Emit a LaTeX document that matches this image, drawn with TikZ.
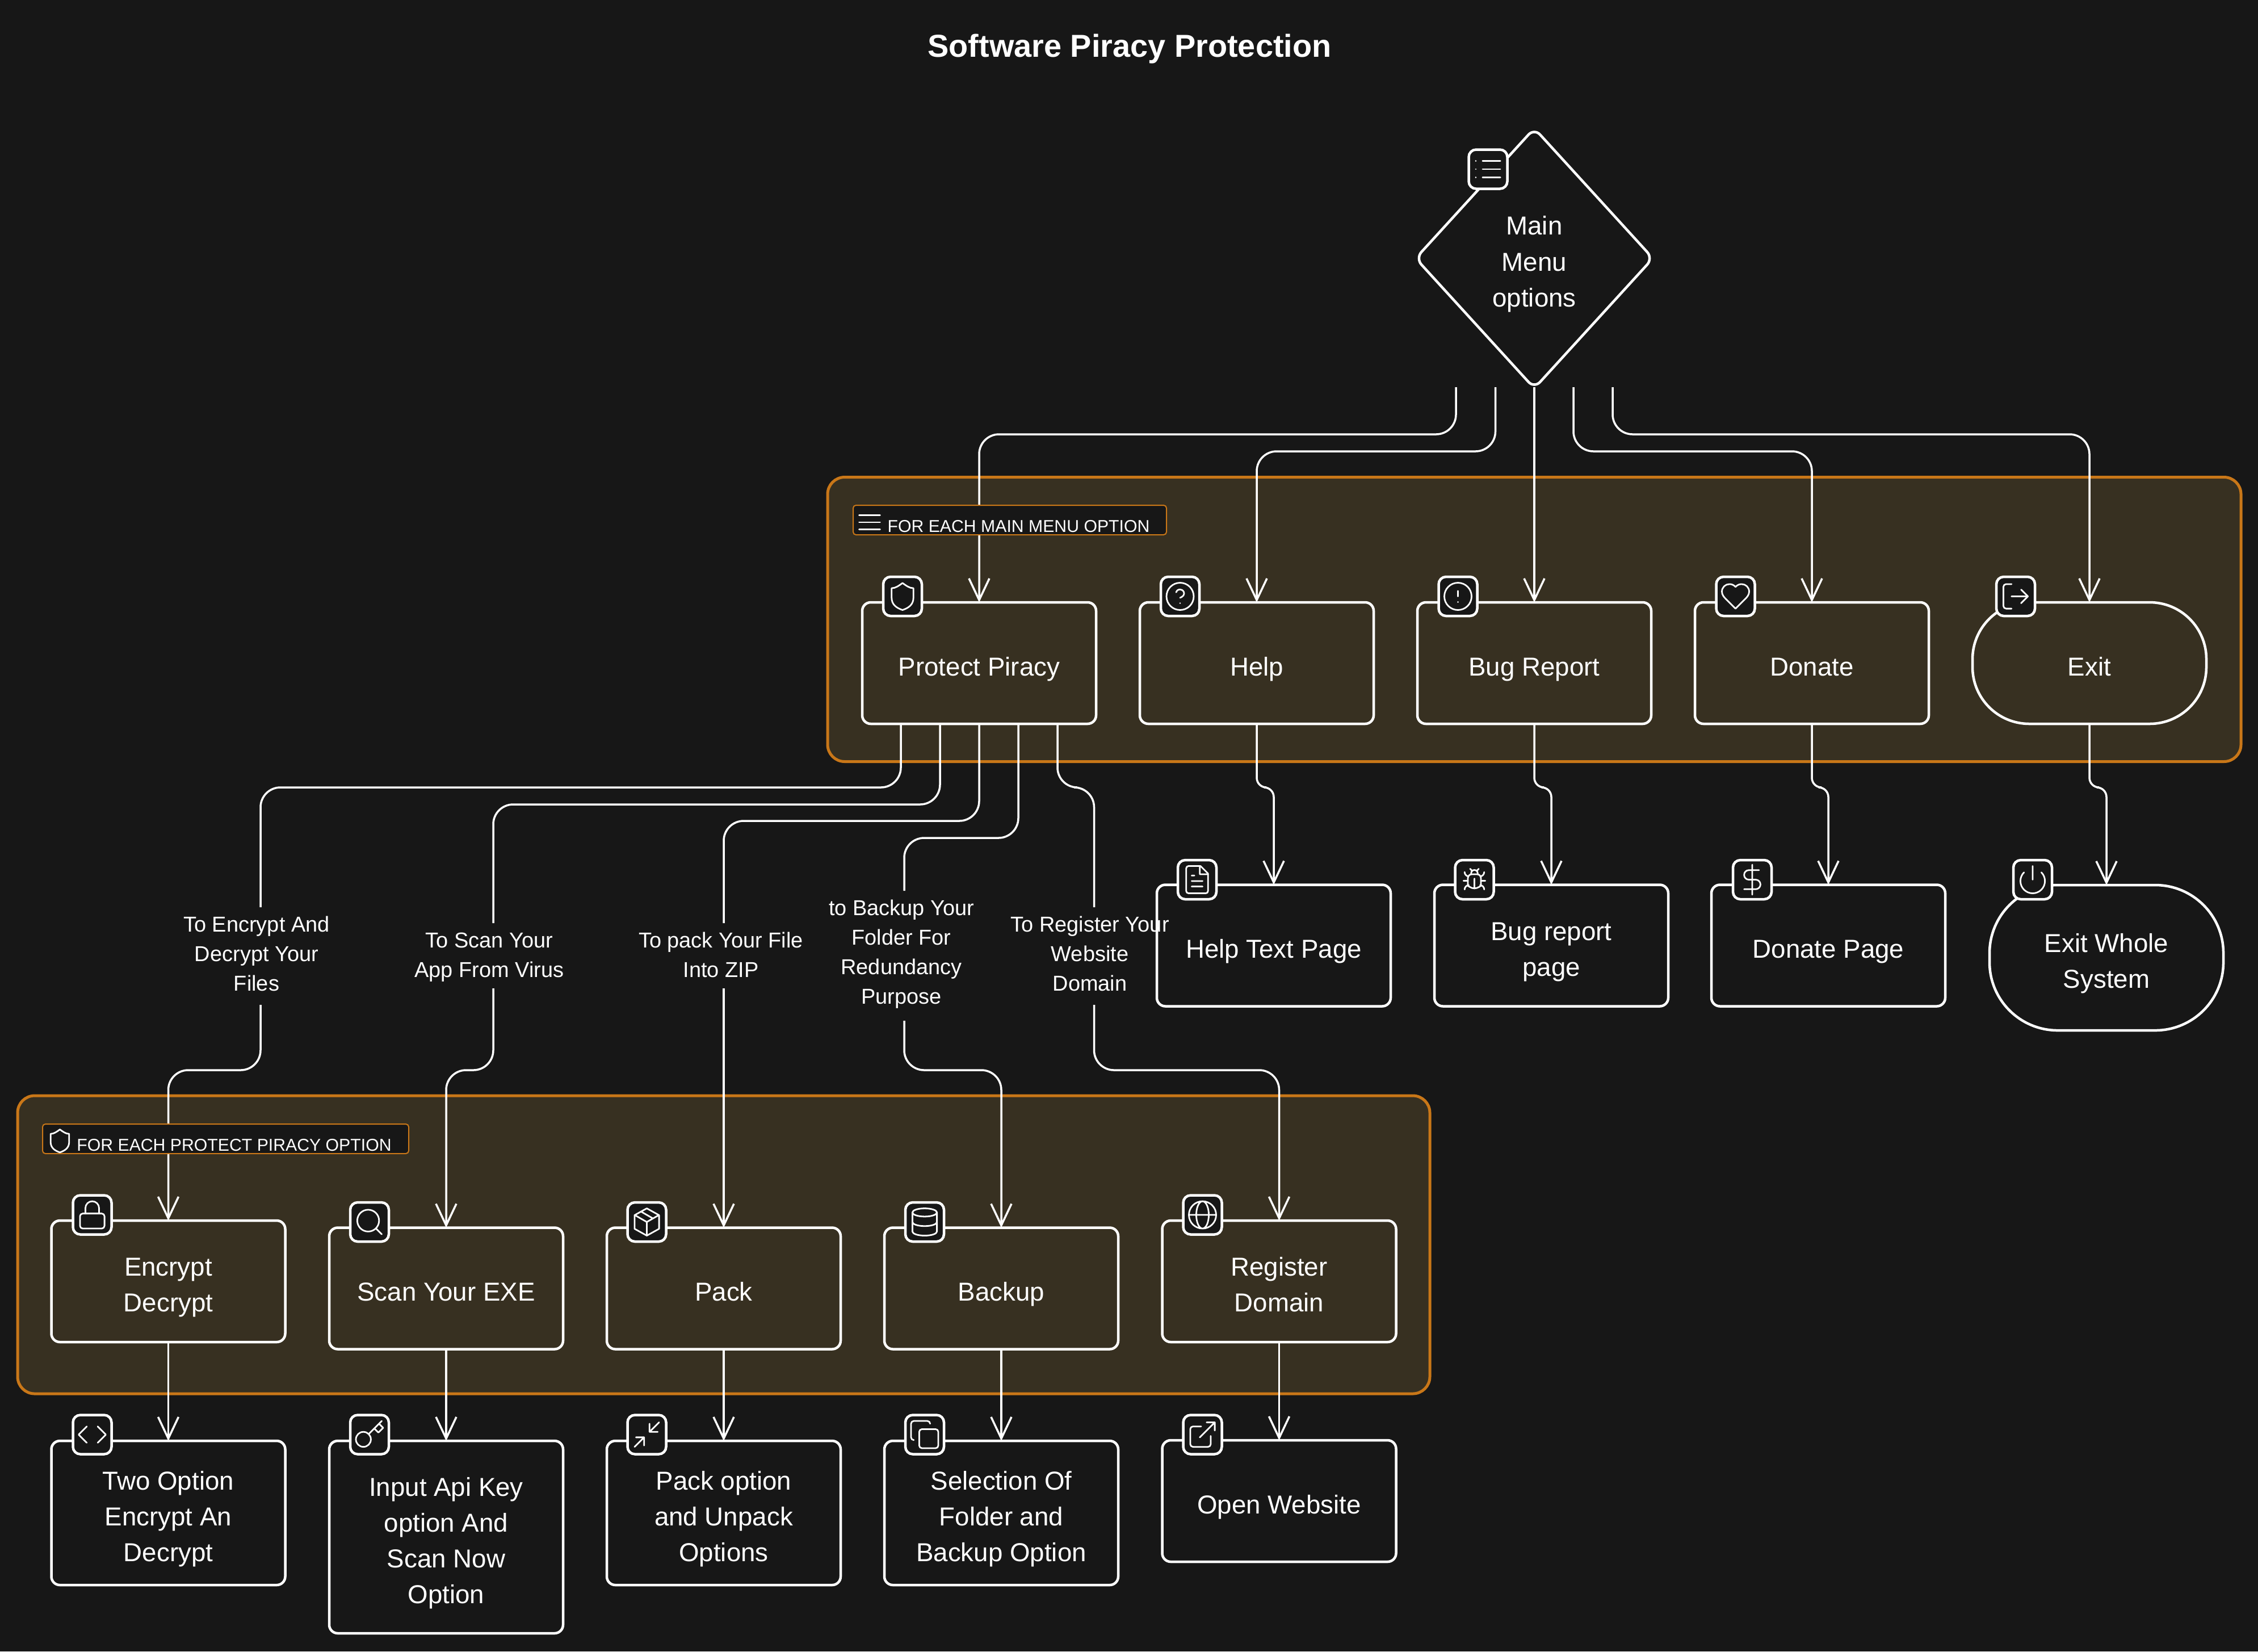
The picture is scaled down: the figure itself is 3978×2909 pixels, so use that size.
\documentclass[tikz,border=0pt]{standalone}
\usepackage{fontspec}
\setmainfont{Liberation Sans}
\usetikzlibrary{arrows.meta,shapes.geometric}

\definecolor{bgdark}{HTML}{171717}
\definecolor{groupfill}{HTML}{373021}
\definecolor{grouporange}{HTML}{C97718}

\newcommand{\boxfont}{\fontsize{13}{17.93}\selectfont}
\newcommand{\edgefont}{\fontsize{10.8}{14.8}\selectfont}
\newcommand{\tagfont}{\fontsize{8.6}{10}\selectfont}

\tikzset{
  menubox/.style={draw=white, line width=.45mm, rounded corners=1.5mm, minimum width=41.2mm, minimum height=21.4mm,
    align=center, inner sep=0pt, outer sep=0pt, font=\boxfont, text=white, text height=4.4mm, text depth=0pt},
  darkbox/.style={menubox, fill=bgdark},
  twolines/.style={text height=10.7mm},
  threelines/.style={text height=17mm},
  fourlines/.style={text height=23.3mm},
  groupbox/.style={draw=grouporange, fill=groupfill, line width=.5mm, rounded corners=3mm, inner sep=0pt, outer sep=0pt},
  grouptag/.style={draw=grouporange, fill=bgdark, line width=.2mm, rounded corners=.5mm, minimum height=5.2mm, inner sep=0pt,
    font=\tagfont, text=white, text height=4.2mm, text depth=0pt},
  badge/.style={draw=white, fill=bgdark, line width=.45mm, rounded corners=1.3mm, minimum width=6.8mm, minimum height=6.9mm, inner sep=0pt},
  conn/.style={draw=white, line width=.35mm, rounded corners=3.5mm},
  connarrow/.style={conn, -{Straight Barb[length=3.8mm,width=3.6mm]}},
  edgelabel/.style={align=center, inner sep=0pt, font=\edgefont, text=white, text depth=0pt},
  icon/.style={x=.24mm, y=-.24mm, shift={(-2.88mm,2.88mm)}, draw=white, line width=.28mm, line cap=round, line join=round},
  pics/iconlist/.style={code={
    \draw[icon] (8,6) -- (21,6) (8,12) -- (21,12) (8,18) -- (21,18) (3,6) -- (3.01,6) (3,12) -- (3.01,12) (3,18) -- (3.01,18);}},
  pics/iconmenu/.style={code={
    \draw[icon] (4.3,6.8) -- (19.7,6.8) (4.3,12) -- (19.7,12) (4.3,17.2) -- (19.7,17.2);}},
  pics/iconshield/.style={code={
    \draw[icon] (20,6) .. controls (17,6) and (14.5,4) .. (12,2.2) .. controls (9.5,4) and (7,6) .. (4,6) -- (4,13)
      .. controls (4,18) and (7.5,20.5) .. (12,22) .. controls (16.5,20.5) and (20,18) .. (20,13) -- cycle;}},
  pics/iconhelp/.style={code={
    \draw[icon] (12,12) circle[radius=10];
    \draw[icon] (9.09,9) .. controls (9.5,7.5) and (11,6.7) .. (12.3,7) .. controls (14,7.2) and (15,8.5) .. (14.92,10)
      .. controls (14.92,12) and (12,13) .. (12,13) (12,17) -- (12.01,17);}},
  pics/iconalert/.style={code={
    \draw[icon] (12,12) circle[radius=10];
    \draw[icon] (12,8) -- (12,12) (12,16) -- (12.01,16);}},
  pics/iconheart/.style={code={
    \draw[icon] (12,21) -- (5,14) .. controls (3.5,12.55) and (2,10.8) .. (2,8.5) .. controls (2,5.4) and (4.5,3) .. (7.5,3)
      .. controls (9.26,3) and (10.5,3.5) .. (12,5) .. controls (13.5,3.5) and (14.74,3) .. (16.5,3)
      .. controls (19.5,3) and (22,5.4) .. (22,8.5) .. controls (22,10.8) and (20.5,12.55) .. (19,14) -- cycle;}},
  pics/iconlogout/.style={code={
    \draw[icon, rounded corners=.48mm] (9,3) -- (3,3) -- (3,21) -- (9,21);
    \draw[icon] (9,12) -- (21,12) (16,7) -- (21,12) -- (16,17);}},
  pics/iconfile/.style={code={
    \draw[icon, rounded corners=.4mm] (14.5,2) -- (4,2) -- (4,22) -- (20,22) -- (20,7.5);
    \draw[icon] (20,7.5) -- (14.5,2) (14,2) -- (14,8) -- (20,8) (16,13) -- (8,13) (16,17) -- (8,17) (10,9) -- (8,9);}},
  pics/iconbug/.style={code={
    \begin{scope}[scale=.8]
    \draw[icon] (8,2) -- (9.88,3.88) (14.12,3.88) -- (16,2) (9,7.13) -- (9,6.13) arc[start angle=180,end angle=360,radius=3] -- (15,7.13);
    \draw[icon, rounded corners=.7mm] (12,20) .. controls (8.7,20) and (6,17.3) .. (6,14) -- (6,7) -- (18,7) -- (18,14) .. controls (18,17.3) and (15.3,20) .. (12,20);
    \draw[icon] (12,20) -- (12,11) (6.53,9) .. controls (4.6,8.8) and (3,7.1) .. (3,5) (6,13) -- (2,13)
      (3,21) .. controls (3,18.9) and (4.7,17.1) .. (6.8,17) (20.97,5) .. controls (20.97,7.1) and (19.4,8.8) .. (17.47,9)
      (22,13) -- (18,13) (17.2,17) .. controls (19.3,17.1) and (21,18.9) .. (21,21);
    \end{scope}}},
  pics/icondollar/.style={code={
    \draw[icon] (12,1) -- (12,23) (17,5) -- (9.5,5) arc[start angle=270,end angle=90,radius=3.5] -- (14.5,12)
      arc[start angle=-90,end angle=90,radius=3.5] -- (6,19);}},
  pics/iconpower/.style={code={
    \draw[icon] (18.36,6.64) arc[start angle=-45,end angle=225,radius=9] (12,2) -- (12,12);}},
  pics/iconlock/.style={code={
    \draw[icon, rounded corners=.48mm] (3,11) rectangle (21,22);
    \draw[icon] (7,11) -- (7,7) arc[start angle=180,end angle=360,radius=5] -- (17,11);}},
  pics/iconsearch/.style={code={
    \draw[icon] (11,11) circle[radius=8] (21,21) -- (16.65,16.65);}},
  pics/iconpackage/.style={code={
    \draw[icon] (16.5,9.4) -- (7.55,4.24) (12,2) -- (21,7) -- (21,17) -- (12,22) -- (3,17) -- (3,7) -- cycle (3.29,7) -- (12,12) -- (20.71,7) (12,22) -- (12,12);}},
  pics/icondatabase/.style={code={
    \draw[icon] (12,5) ellipse[x radius=9,y radius=3];
    \draw[icon] (3,5) -- (3,19) .. controls (3,20.66) and (7,22) .. (12,22) .. controls (17,22) and (21,20.66) .. (21,19) -- (21,5)
      (3,12) .. controls (3,13.66) and (7,15) .. (12,15) .. controls (17,15) and (21,13.66) .. (21,12);}},
  pics/iconglobe/.style={code={
    \draw[icon] (12,12) circle[radius=10] (12,12) ellipse[x radius=4.6,y radius=10] (2,12) -- (22,12);}},
  pics/iconcode/.style={code={
    \draw[icon] (16,18) -- (22,12) -- (16,6) (8,6) -- (2,12) -- (8,18);}},
  pics/iconkey/.style={code={
    \draw[icon] (7.5,15.5) circle[radius=5.5] (21,2) -- (11.4,11.6) (15.5,7.5) -- (18.5,10.5) -- (22,7) -- (19,4);}},
  pics/iconminimize/.style={code={
    \draw[icon] (4,14) -- (10,14) -- (10,20) (20,10) -- (14,10) -- (14,4) (14,10) -- (21,3) (3,21) -- (10,14);}},
  pics/iconcopy/.style={code={
    \draw[icon, rounded corners=.48mm] (8,8) rectangle (22,22);
    \draw[icon, rounded corners=.48mm] (4,16) -- (2,16) -- (2,2) -- (16,2) -- (16,4);}},
  pics/iconexternal/.style={code={
    \draw[icon, rounded corners=.48mm] (18,13) -- (18,21) -- (3,21) -- (3,6) -- (11,6);
    \draw[icon] (15,3) -- (21,3) -- (21,9) (10,14) -- (21,3);}},
}

\begin{document}
\begin{tikzpicture}[x=.1mm, y=-.1mm]
\fill[bgdark] (0,0) rectangle (3978,2909);
\useasboundingbox (0,0) rectangle (3978,2909);

\node[font=\fontsize{15.9}{20}\selectfont\bfseries, text=white, inner sep=0pt] (title) at (1990,86) {Software Piracy Protection};

%% groups
\node[groupbox, minimum width=249mm, minimum height=50.1mm] (maingroup) at (2703,1091) {};
\node[groupbox, minimum width=248.8mm, minimum height=52.5mm] (protectgroup) at (1275,2192.5) {};

%% main menu and its options
\node[diamond, aspect=.91, menubox, minimum width=41.8mm, minimum height=45.8mm, threelines] (mainmenu) at (2703,455) {Main\\Menu\\options};
\node[menubox] (protect) at (1725,1168) {Protect Piracy};
\node[menubox] (help) at (2214,1168) {Help};
\node[menubox] (bugreport) at (2703,1168) {Bug Report};
\node[menubox] (donate) at (3192,1168) {Donate};
\node[menubox, rounded corners=10mm] (exit) at (3681,1168) {Exit};

\node[darkbox] (helppage) at (2244,1665.5) {Help Text Page};
\node[darkbox, twolines] (bugpage) at (2733,1665.5) {Bug report\\page};
\node[darkbox] (donatepage) at (3221,1665.5) {Donate Page};
\node[darkbox, twolines, minimum height=25.6mm, rounded corners=12mm] (exitpage) at (3711,1687) {Exit Whole\\System};

%% protect piracy options
\node[menubox, twolines] (encrypt) at (296.5,2257) {Encrypt\\Decrypt};
\node[menubox] (scan) at (786,2269.5) {Scan Your EXE};
\node[menubox] (pack) at (1275,2269.5) {Pack};
\node[menubox] (backup) at (1764,2269.5) {Backup};
\node[menubox, twolines] (register) at (2253.5,2257) {Register\\Domain};

\node[darkbox, threelines, minimum height=25.4mm] (twooption) at (296.5,2665) {Two Option\\Encrypt An\\Decrypt};
\node[darkbox, fourlines, minimum height=33.9mm] (apikey) at (786,2707.5) {Input Api Key\\option And\\Scan Now\\Option};
\node[darkbox, threelines, minimum height=25.4mm] (packoption) at (1275,2665) {Pack option\\and Unpack\\Options};
\node[darkbox, threelines, minimum height=25.4mm] (selection) at (1764,2665) {Selection Of\\Folder and\\Backup Option};
\node[darkbox] (website) at (2253.5,2644) {Open Website};

%% free ends of the connectors
\coordinate (menuA) at (2565,682);
\coordinate (menuB) at (2634.5,682);
\coordinate (menuC) at (2703,682);
\coordinate (menuD) at (2772,682);
\coordinate (menuE) at (2841,682);
\coordinate (encryptA) at (459,1598);
\coordinate (encryptB) at (459,1770);
\coordinate (scanA) at (869,1626);
\coordinate (scanB) at (869,1741);
\coordinate (packA) at (1275,1626);
\coordinate (packB) at (1275,1741);
\coordinate (backupA) at (1593,1569);
\coordinate (backupB) at (1593,1798);
\coordinate (registerA) at (1927.5,1598);
\coordinate (registerB) at (1927.5,1770);

%% menu to options
\foreach \from/\to/\h in {menuA/protect/765, menuB/help/795, menuD/donate/795, menuE/exit/765}
  \draw[connarrow] (\from) -- (\from |- 0,\h) -- (\to.north |- 0,\h) -- (\to.north);
\draw[connarrow] (menuC) -- (bugreport.north);

%% options to their pages
\foreach \from/\to in {help/helppage, bugreport/bugpage, donate/donatepage, exit/exitpage}
  \draw[connarrow, rounded corners=1.7mm] (\from.south) -- (\from.south |- 0,1387) -- (\to.north |- 0,1387) -- (\to.north);

%% protect piracy to its options, cut where the label sits
\draw[conn] (1587,0 |- protect.south) -- (1587,1387) -- (encryptA |- 0,1387) -- (encryptA);
\draw[connarrow] (encryptB) -- (459,1885) -- (encrypt.north |- 0,1885) -- (encrypt.north);
\draw[conn] (1656,0 |- protect.south) -- (1656,1417) -- (scanA |- 0,1417) -- (scanA);
\draw[connarrow] (scanB) -- (869,1885) -- (scan.north |- 0,1885) -- (scan.north);
\draw[conn] (protect.south) -- (1725,1446) -- (packA |- 0,1446) -- (packA);
\draw[connarrow] (packB) -- (pack.north);
\draw[conn] (1794,0 |- protect.south) -- (1794,1476) -- (backupA |- 0,1476) -- (backupA);
\draw[connarrow] (backupB) -- (1593,1885) -- (backup.north |- 0,1885) -- (backup.north);
\draw[conn] (1863,0 |- protect.south) -- (1863,1387) -- (registerA |- 0,1387) -- (registerA);
\draw[connarrow] (registerB) -- (1927.5,1885) -- (register.north |- 0,1885) -- (register.north);

\foreach \from/\to in {encrypt/twooption, scan/apikey, pack/packoption, backup/selection, register/website}
  \draw[connarrow] (\from.south) -- (\to.north);

%% group tags
\node[grouptag, minimum width=55.2mm] (maintag) at (1779,916) {\hspace*{3.1mm}FOR EACH MAIN MENU OPTION};
\pic at (1532,920) {iconmenu};
\node[grouptag, minimum width=64.5mm] (protecttag) at (397.5,2006) {\hspace*{3mm}FOR EACH PROTECT PIRACY OPTION};
\pic[scale=.85] at (105.5,2009.5) {iconshield};

%% badges
\foreach \nm/\x/\y/\ic in {
  mainbadge/2621.5/298/iconlist,
  protectbadge/1590/1050.5/iconshield, helpbadge/2079/1050.5/iconhelp, bugbadge/2568.5/1050.5/iconalert,
  donatebadge/3057.5/1050.5/iconheart, exitbadge/3551/1050.5/iconlogout,
  helppagebadge/2109/1549.5/iconfile, bugpagebadge/2597.5/1549.5/iconbug,
  donatepagebadge/3087/1549.5/icondollar, exitpagebadge/3581/1549.5/iconpower,
  encryptbadge/162.5/2140/iconlock, scanbadge/651/2152.5/iconsearch, packbadge/1139.5/2152.5/iconpackage,
  backupbadge/1629/2152.5/icondatabase, registerbadge/2118.5/2140/iconglobe,
  twobadge/162.5/2527/iconcode, keybadge/651/2527/iconkey, packoptbadge/1139.5/2527/iconminimize,
  selectbadge/1629/2527/iconcopy, websitebadge/2118.5/2527/iconexternal}
  {
  \node[badge] (\nm) at (\x,\y) {};
  \pic at (\x,\y) {\ic};
  }

%% connector labels
\node[edgelabel, text height=10.4mm] (encryptlabel) at (452,1693) {To Encrypt And\\Decrypt Your\\Files};
\node[edgelabel, text height=5.2mm] (scanlabel) at (862,1695) {To Scan Your\\App From Virus};
\node[edgelabel, text height=5.2mm] (packlabel) at (1270,1695) {To pack Your File\\Into ZIP};
\node[edgelabel, text height=15.6mm] (backuplabel) at (1588,1690.5) {to Backup Your\\Folder For\\Redundancy\\Purpose};
\node[edgelabel, text height=10.4mm] (registerlabel) at (1920,1693) {To Register Your\\Website\\Domain};

\end{tikzpicture}
\end{document}
